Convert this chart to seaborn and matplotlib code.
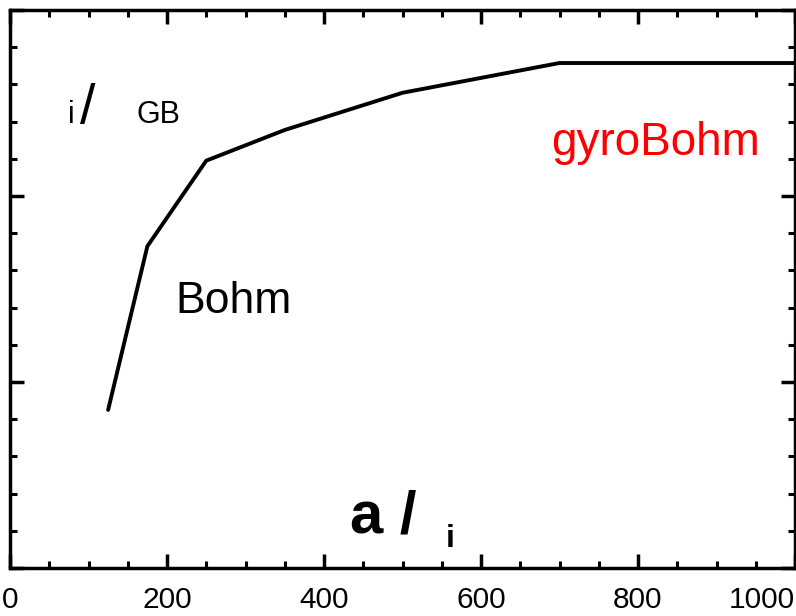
import matplotlib as mpl
mpl.use("Agg")
import matplotlib.pyplot as plt
from matplotlib.ticker import MultipleLocator
import pandas as pd
import seaborn as sns

sns.set_style("ticks")
plt.rcParams["font.family"] = ["Liberation Sans", "DejaVu Sans"]
plt.rcParams["text.color"] = "black"
plt.rcParams["xtick.color"] = "black"
plt.rcParams["ytick.color"] = "black"

# a / rho_i  vs  chi_i / chi_GB
a_over_rho = [125, 175, 250, 350, 500, 700, 1000]
chi_ratio = [0.85, 1.73, 2.19, 2.355, 2.555, 2.715, 2.715]
x_ticks = [0, 200, 400, 600, 800, 1000]
x_tick_labels = ["0", "200", "400", "600", "800", "1000"]

df = pd.DataFrame({"a_over_rho": a_over_rho, "chi": chi_ratio})

fig = plt.figure(figsize=(7.96, 6.16), dpi=100)
ax = fig.add_axes([10 / 796, 48 / 616, 785 / 796, 558 / 616])

sns.lineplot(data=df, x="a_over_rho", y="chi", color="black", linewidth=2.8, ax=ax)

ax.set_xlim(0, 1000)
ax.set_ylim(0, 3)
ax.set_xlabel("")
ax.set_ylabel("")

ax.set_xticks(x_ticks)
ax.set_xticklabels(x_tick_labels, fontsize=21.5)
ax.xaxis.set_minor_locator(MultipleLocator(50))
ax.yaxis.set_major_locator(MultipleLocator(1))
ax.yaxis.set_minor_locator(MultipleLocator(0.2))
ax.set_yticklabels([])
ax.xaxis.get_ticklabels()[-1].set_horizontalalignment("right")

ax.tick_params(which="both", direction="in", top=True, right=True, color="black")
ax.tick_params(which="major", length=10, width=2.5, pad=13)
ax.tick_params(which="minor", length=5, width=2.2)
ax.tick_params(axis="y", which="both", labelleft=False)
for sp in ax.spines.values():
    sp.set_linewidth(2.5)
    sp.set_color("black")

# annotations (greek symbols missing in the original rendering)
W, H = 796, 616
fig.text(68 / W, 1 - 123 / H, "i", fontsize=22, ha="left", va="baseline")
fig.text(80 / W, 1 - 123 / H, "/", fontsize=40, ha="left", va="baseline")
fig.text(137 / W, 1 - 123 / H, "GB", fontsize=22, ha="left", va="baseline")
fig.text(175 / W, 1 - 313 / H, "Bohm", fontsize=32, ha="left", va="baseline")
fig.text(551 / W, 1 - 155 / H, "gyroBohm", fontsize=33, color="red",
         ha="left", va="baseline")
fig.text(350 / W, 1 - 532 / H, "a /", fontsize=43, fontweight="bold",
         ha="left", va="baseline")
fig.text(446 / W, 1 - 547 / H, "i", fontsize=23, fontweight="bold",
         ha="left", va="baseline")

fig.savefig("out.png", dpi=100)
